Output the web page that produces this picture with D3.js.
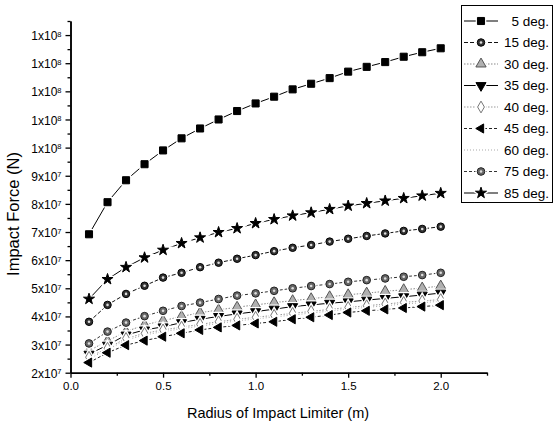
<!DOCTYPE html>
<html>
<head>
<meta charset="utf-8">
<script src="https://cdn.jsdelivr.net/npm/d3@7"></script>
<style>
  html, body { margin: 0; padding: 0; background: #fff; }
  svg { display: block; font-family: "Liberation Sans", Arial, sans-serif; }
</style>
</head>
<body>
<svg id="chart" width="555" height="428"></svg>
<script>
// Radius of impact limiter (m)
const radius = [0.1, 0.2, 0.3, 0.4, 0.5, 0.6, 0.7, 0.8, 0.9, 1.0,
                1.1, 1.2, 1.3, 1.4, 1.5, 1.6, 1.7, 1.8, 1.9, 2.0];

// Impact force (N) per impact angle, in units of 1e7 N
const deg5  = [6.92, 8.06, 8.84, 9.41, 9.90, 10.33, 10.68, 11.00, 11.30, 11.57,
               11.81, 12.07, 12.27, 12.47, 12.70, 12.87, 13.04, 13.23, 13.39, 13.53];
const deg15 = [3.81, 4.41, 4.80, 5.09, 5.38, 5.55, 5.75, 5.91, 6.05, 6.18,
               6.32, 6.44, 6.54, 6.66, 6.76, 6.86, 6.95, 7.04, 7.11, 7.19];
const deg30 = [2.78, 3.13, 3.46, 3.70, 3.85, 4.00, 4.13, 4.23, 4.33, 4.41,
               4.49, 4.56, 4.63, 4.70, 4.77, 4.83, 4.89, 4.95, 5.01, 5.08];
const deg35 = [2.66, 2.98, 3.34, 3.52, 3.63, 3.78, 3.90, 4.00, 4.09, 4.17,
               4.26, 4.35, 4.41, 4.47, 4.52, 4.58, 4.64, 4.70, 4.76, 4.83];
const deg40 = [2.55, 2.87, 3.22, 3.40, 3.52, 3.62, 3.72, 3.81, 3.90, 3.97,
               4.04, 4.11, 4.18, 4.25, 4.32, 4.38, 4.44, 4.50, 4.55, 4.60];
const deg45 = [2.36, 2.71, 2.98, 3.14, 3.28, 3.40, 3.52, 3.61, 3.68, 3.75,
               3.81, 3.90, 3.97, 4.05, 4.14, 4.20, 4.25, 4.30, 4.35, 4.40];
const deg60 = [2.50, 2.82, 3.16, 3.34, 3.46, 3.56, 3.66, 3.75, 3.84, 3.91,
               3.98, 4.05, 4.12, 4.19, 4.26, 4.32, 4.38, 4.44, 4.49, 4.54];
const deg75 = [3.04, 3.46, 3.78, 4.01, 4.20, 4.37, 4.49, 4.62, 4.74, 4.82,
               4.91, 5.00, 5.08, 5.15, 5.23, 5.29, 5.35, 5.41, 5.47, 5.55];
const deg85 = [4.62, 5.32, 5.75, 6.09, 6.36, 6.60, 6.80, 6.99, 7.13, 7.31,
               7.45, 7.58, 7.69, 7.81, 7.93, 8.02, 8.11, 8.20, 8.29, 8.38];

const seriesNames = ["5 deg.", "15 deg.", "30 deg.", "35 deg.", "40 deg.",
                     "45 deg.", "60 deg.", "75 deg.", "85 deg."];
const seriesValues = [deg5, deg15, deg30, deg35, deg40, deg45, deg60, deg75, deg85];

// Axis ticks
const xTicks = [0.0, 0.5, 1.0, 1.5, 2.0];
const xTickLabels = ["0.0", "0.5", "1.0", "1.5", "2.0"];
const xMinorTicks = [0.25, 0.75, 1.25, 1.75, 2.25];
const yTicks = [2e7, 3e7, 4e7, 5e7, 6e7, 7e7, 8e7, 9e7, 1.0e8, 1.1e8, 1.2e8, 1.3e8, 1.4e8];
const yTickLabels = ["2x10^7", "3x10^7", "4x10^7", "5x10^7", "6x10^7", "7x10^7",
                     "8x10^7", "9x10^7", "1x10^8", "1x10^8", "1x10^8", "1x10^8", "1x10^8"];
const yMinorTicks = [2.5e7, 3.5e7, 4.5e7, 5.5e7, 6.5e7, 7.5e7, 8.5e7, 9.5e7,
                     1.05e8, 1.15e8, 1.25e8, 1.35e8, 1.45e8];

// Drawing styles per series
const styles = [
  { sym: "square",   fill: "#000", stroke: "#000", line: "#000", dash: null,  size: 50 },
  { sym: "ring",     fill: "#333", stroke: "#000", line: "#111", dash: "4,2", size: 44 },
  { sym: "triUp",    fill: "#b0b0b0", stroke: "#555", line: "#888", dash: "1.5,1.5", size: 46 },
  { sym: "triDown",  fill: "#000", stroke: "#000", line: "#000", dash: null,  size: 44 },
  { sym: "diamond",  fill: "#fff", stroke: "#777", line: "#999", dash: "1.5,1.5", size: 40 },
  { sym: "triLeft",  fill: "#000", stroke: "#000", line: "#222", dash: "3,2", size: 36 },
  { sym: "none",     fill: "none", stroke: "none", line: "#aaa", dash: "1,2", size: 0 },
  { sym: "ring",     fill: "#666", stroke: "#222", line: "#333", dash: "3,2", size: 46 },
  { sym: "star",     fill: "#000", stroke: "#000", line: "#000", dash: null,  size: 38 }
];

const svg = d3.select("#chart");
const x = d3.scaleLinear().domain([0, 2.25]).range([70.5, 487]);
const y = d3.scaleLinear().domain([2e7, 1.45e8]).range([372.7, 21]);

function symbolPath(s) {
  const shapes = {
    square: d3.symbolSquare, ring: d3.symbolCircle, triUp: d3.symbolTriangle,
    triDown: d3.symbolTriangle, triLeft: d3.symbolTriangle,
    diamond: d3.symbolDiamond, star: d3.symbolStar
  };
  return d3.symbol().type(shapes[s.sym]).size(s.size)();
}
function symbolRotate(s) {
  if (s.sym === "triDown") return 180;
  if (s.sym === "triLeft") return -90;
  return 0;
}
function drawMarker(g, s, cx, cy, halo) {
  if (s.sym === "none") return;
  const t = `translate(${cx},${cy}) rotate(${symbolRotate(s)})`;
  if (halo) {
    g.append("path").attr("d", symbolPath(s)).attr("transform", t)
      .attr("fill", "#fff").attr("stroke", "#fff").attr("stroke-width", 3.5);
  }
  g.append("path").attr("d", symbolPath(s)).attr("transform", t)
    .attr("fill", s.fill).attr("stroke", s.stroke).attr("stroke-width", 1);
  if (s.sym === "ring") {
    g.append("circle").attr("cx", cx).attr("cy", cy).attr("r", 1.3).attr("fill", "#ddd");
  }
}

// Series lines and markers
const line = d3.line().x((d, i) => x(radius[i])).y(d => y(d * 1e7));
const plot = svg.append("g");
seriesValues.forEach((vals, k) => {
  const s = styles[k];
  plot.append("path").datum(vals).attr("d", line)
    .attr("fill", "none").attr("stroke", s.line).attr("stroke-width", 1)
    .attr("stroke-dasharray", s.dash);
});
seriesValues.forEach((vals, k) => {
  const s = styles[k];
  const g = plot.append("g");
  vals.forEach((v, i) => drawMarker(g, s, x(radius[i]), y(v * 1e7), true));
});

// Axes
const xAxis = svg.append("g").attr("transform", "translate(0,372.7)")
  .call(d3.axisBottom(x).tickValues(xTicks).tickSize(5).tickPadding(4)
    .tickFormat((d, i) => xTickLabels[i]).tickSizeOuter(0));
svg.append("g").attr("transform", "translate(0,372.7)")
  .call(d3.axisBottom(x).tickValues(xMinorTicks).tickSize(3).tickFormat("").tickSizeOuter(0));

const yAxis = svg.append("g").attr("transform", "translate(70.5,0)")
  .call(d3.axisLeft(y).tickValues(yTicks).tickSize(5).tickPadding(3)
    .tickFormat("").tickSizeOuter(0));
svg.append("g").attr("transform", "translate(70.5,0)")
  .call(d3.axisLeft(y).tickValues(yMinorTicks).tickSize(3).tickFormat("").tickSizeOuter(0));

svg.selectAll(".domain").attr("stroke", "#000").attr("stroke-width", 1.5);
svg.selectAll(".tick line").attr("stroke", "#000").attr("stroke-width", 1.3);
xAxis.selectAll("text").attr("font-size", 11.5).attr("fill", "#000")
  .attr("font-family", "Liberation Sans, Arial, sans-serif");

// Y tick labels with superscript exponents
yAxis.selectAll(".tick").each(function (d, i) {
  const parts = yTickLabels[i].split("^");
  const t = d3.select(this).append("text")
    .attr("x", -9).attr("dy", "0.38em").attr("text-anchor", "end")
    .attr("fill", "#000").attr("font-size", 12)
    .attr("font-family", "Liberation Sans, Arial, sans-serif");
  t.append("tspan").text(parts[0]);
  t.append("tspan").attr("dy", "-0.45em").attr("font-size", 7.5).text(parts[1]);
});

// Axis titles
svg.append("text").attr("x", 278).attr("y", 418).attr("text-anchor", "middle")
  .attr("font-size", 14.5).attr("fill", "#000").text("Radius of Impact Limiter (m)");
svg.append("text").attr("transform", "translate(19,214) rotate(-90)")
  .attr("text-anchor", "middle").attr("font-size", 16.5).attr("fill", "#000")
  .text("Impact Force (N)");

// Legend
const legend = svg.append("g");
legend.append("rect").attr("x", 461.5).attr("y", 5.5).attr("width", 91).attr("height", 197)
  .attr("fill", "#fff").attr("stroke", "#000").attr("stroke-width", 1);
seriesNames.forEach((name, k) => {
  const s = styles[k];
  const ly = 21 + k * 21.5;
  legend.append("line").attr("x1", 464).attr("x2", 498).attr("y1", ly).attr("y2", ly)
    .attr("stroke", s.line).attr("stroke-width", 1.2).attr("stroke-dasharray", s.dash);
  drawMarker(legend, s, 481, ly, true);
  legend.append("text").attr("x", 549).attr("y", ly).attr("dy", "0.36em")
    .attr("text-anchor", "end").attr("font-size", 13.5).attr("fill", "#000").text(name);
});
</script>
</body>
</html>
